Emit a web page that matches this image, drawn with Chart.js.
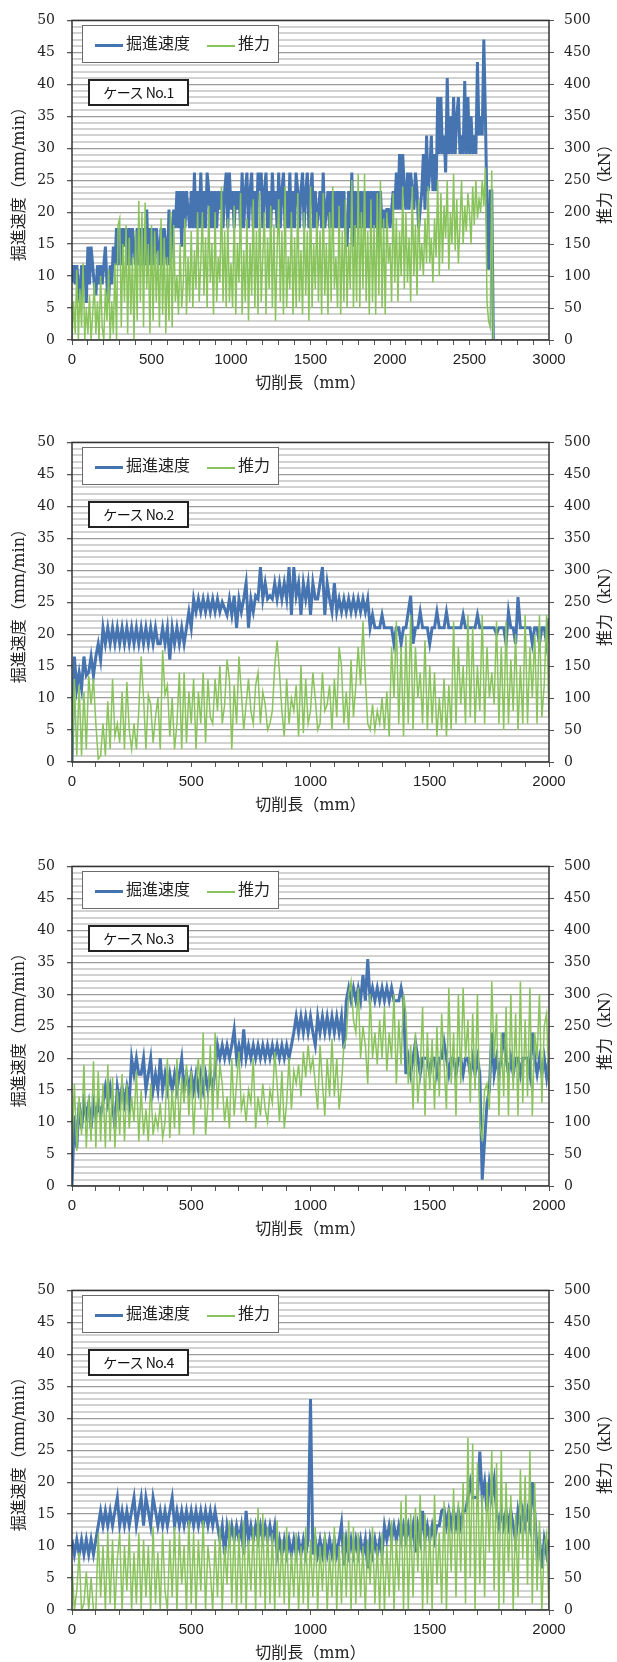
<!DOCTYPE html>
<html>
<head>
<meta charset="utf-8">
<script src="https://cdn.jsdelivr.net/npm/chart.js@4.4.1/dist/chart.umd.min.js"></script>
<style>
  html, body { margin: 0; padding: 0; background: #fff; overflow: hidden; width: 617px; height: 1662px; }
  .wrap { position: absolute; left: 0; width: 617px; height: 400px; }
  .legend { position: absolute; left: 82px; top: 25px; width: 195px; height: 36px; border: 1.5px solid #6b6b6b; background: #fff;
            font: 16px "Noto Sans CJK JP", sans-serif; color: #222; }
  .legend span { position: absolute; }
  .case { position: absolute; left: 88px; top: 79px; width: 97px; height: 23px; border: 2px solid #222; background: #fff;
          font: 14px "Noto Sans CJK JP", sans-serif; color: #111; text-align: center; line-height: 23px; letter-spacing: -0.5px; }
</style>
</head>
<body>
<div id="c1" class="wrap" style="top:0px"><canvas id="chart1" width="617" height="400"></canvas></div>
<div id="c2" class="wrap" style="top:422px"><canvas id="chart2" width="617" height="400"></canvas></div>
<div id="c3" class="wrap" style="top:846px"><canvas id="chart3" width="617" height="400"></canvas></div>
<div id="c4" class="wrap" style="top:1270px"><canvas id="chart4" width="617" height="400"></canvas></div>
<script>
// series labels and case names
var seriesNames = ['掘進速度', '推力'];
var caseNames = ['ケース No.1', 'ケース No.2', 'ケース No.3', 'ケース No.4'];
var xTitle = '切削長（mm）';
var yTitle = '掘進速度（mm/min）';
var y2Title = '推力（kN）';
var sampleStep = 10; // mm between readings
var xMaxes = [3000, 2000, 2000, 2000];

// case 1 (mm/min / kN), every 10 mm
var speed1 = [
  9.0,11.7,8.7,11.7,8.7,5.8,11.7,8.7,11.7,5.8,
  14.6,8.7,14.6,11.7,8.7,7.0,11.7,8.7,11.7,8.7,
  11.7,14.6,8.7,5.8,11.7,8.7,14.6,11.7,17.5,11.7,
  17.5,11.7,17.5,14.6,17.5,11.7,17.5,11.7,17.5,14.6,
  11.7,17.5,11.7,17.5,11.7,17.5,11.7,20.4,11.7,17.5,
  11.7,17.5,11.7,17.5,14.6,11.7,17.5,11.7,17.5,14.6,
  11.7,20.4,11.7,17.5,20.4,17.5,23.3,17.5,23.3,14.6,
  23.3,17.5,23.3,20.4,17.5,23.3,17.5,26.2,17.5,23.3,
  17.5,26.2,17.5,23.3,17.5,26.2,23.3,17.5,23.3,17.5,
  23.3,17.5,23.3,20.4,23.3,17.5,23.3,26.2,17.5,26.2,
  20.4,23.3,17.5,23.3,20.4,23.3,17.5,26.2,17.5,23.3,
  26.2,17.5,23.3,26.2,17.5,23.3,17.5,26.2,23.3,26.2,
  17.5,23.3,26.2,17.5,23.3,17.5,26.2,20.4,23.3,17.5,
  26.2,17.5,23.3,26.2,17.5,23.3,17.5,26.2,17.5,23.3,
  17.5,26.2,23.3,17.5,23.3,26.2,17.5,23.3,26.2,17.5,
  23.3,26.2,17.5,23.3,17.5,20.4,23.3,17.5,26.2,17.5,
  20.4,23.3,17.5,23.3,17.5,23.3,17.5,23.3,17.5,23.3,
  17.5,23.3,17.5,14.6,23.3,17.5,26.2,14.6,23.3,17.5,
  23.3,17.5,23.3,17.5,23.3,17.5,23.3,17.5,23.3,17.5,
  23.3,17.5,23.3,14.6,23.3,17.5,20.4,17.5,20.4,20.4,
  17.5,20.4,23.3,20.4,26.2,20.4,29.1,20.4,29.1,23.3,
  20.4,26.2,20.4,26.2,23.3,20.4,26.2,23.3,17.5,20.4,
  23.3,29.1,20.4,32.0,23.3,26.2,32.0,23.3,29.1,23.3,
  38.0,29.1,38.0,29.1,32.0,26.2,41.0,29.1,35.0,29.1,
  38.0,29.1,35.0,38.0,29.1,32.0,29.1,40.5,29.1,38.0,
  29.1,35.0,29.1,32.0,29.1,43.5,32.0,35.0,32.0,47.0,
  35.0,20.4,11.0,23.3,23.3,0
];
var thrust1 = [
  0,60,10,110,0,80,20,120,0,50,
  10,70,0,40,90,10,60,0,100,20,
  0,80,30,110,0,60,10,120,0,180,
  190,20,150,60,180,10,160,40,130,0,
  170,30,218,60,200,20,215,80,150,10,
  180,30,170,60,140,20,190,40,160,10,
  130,30,200,20,180,60,100,40,150,50,
  90,190,40,130,60,170,50,140,80,200,
  60,120,200,70,160,50,210,90,150,40,
  200,60,130,90,240,60,170,50,190,60,
  120,50,210,40,150,90,230,40,140,60,
  190,30,150,70,220,50,170,40,230,60,
  130,200,40,160,80,210,50,180,30,140,
  220,60,170,40,240,50,130,80,200,40,
  160,50,230,60,140,40,200,70,170,30,
  240,50,150,80,200,60,170,40,230,70,
  150,40,200,60,240,80,130,50,210,40,
  170,60,220,50,150,80,250,50,180,60,
  260,50,200,80,260,60,170,40,220,60,
  180,40,230,70,250,50,190,40,200,120,
  150,60,230,90,190,60,170,100,240,80,
  200,90,160,60,240,100,180,70,220,110,
  150,100,190,120,240,120,160,90,190,130,
  250,100,230,120,210,160,250,110,200,150,
  260,140,220,120,180,250,150,210,170,230,
  200,150,240,180,250,190,220,200,250,210,
  270,60,30,20,265,0
];

// case 2
var speed2 = [
  0,16.5,11.5,14,11.5,16.5,13.5,14,16.5,13.5,
  16.5,18.5,16,21,18.5,21,18.5,21,18.5,21,
  18.5,21,18.5,21,18.5,21,18.5,21,18.5,21,
  18.5,21,18.5,21,18.5,21,18.5,18.5,21,18.5,
  21,16,21,18.5,21,18.5,21,18.5,21,23.5,
  21,25.5,23.5,25.5,23.5,25.5,23.5,25.5,23.5,25.5,
  23.5,25.5,23.5,25,24,23,25.5,23,26,21,
  25.5,23.5,25.5,28,21,25.5,23.5,26,25.5,30.5,
  25.5,28,25.5,26,25.5,28,25.5,28,25.5,28,
  25.5,30.5,23,30.5,26,28,23,28,25.5,28,
  23,28,25.5,25.5,28,30.5,23,28,25.5,23.5,
  28,23.5,25.5,23.5,25.5,23.5,25.5,23.5,25.5,23.5,
  25.5,23.5,25.5,23.5,25.5,21,23,21,21,21,
  23,21,21,21,21,18.5,21,21,18.5,21,
  21,23.5,26,18.5,21,21,23.5,21,21,21,
  18.5,21,21,23.5,21,21,21,23.5,21,21,
  21,21,21,21,23,21,21,21,21,21,
  23,21,21,21,21,21,21,21,20,21,
  21,21,18.5,23.5,21,21,18.5,25.8,21,21,
  21,21,21,18.5,21,21,18.5,21,21,18.5,
  22.5
];
var thrust2 = [
  0,130,10,120,10,110,20,135,90,130,
  60,5,10,60,10,95,20,130,40,60,
  30,110,20,125,50,20,60,20,80,165,
  100,20,105,90,30,70,100,20,175,105,
  120,40,100,20,60,140,20,140,30,110,
  60,130,20,110,60,140,30,130,70,60,
  130,80,150,60,90,160,130,20,120,60,
  165,110,50,90,130,80,60,120,140,60,
  110,90,50,60,80,150,190,140,80,40,
  130,60,100,80,120,40,150,45,130,60,
  80,140,100,50,60,140,80,90,120,50,
  130,70,180,150,60,110,50,160,70,120,
  180,120,220,130,60,50,90,50,80,60,
  100,50,110,40,180,100,220,60,180,40,
  200,60,230,50,180,100,140,60,190,50,
  150,60,140,40,100,50,130,40,120,50,
  220,60,180,90,150,60,230,70,210,60,
  150,80,230,60,180,100,140,90,220,60,
  180,50,220,60,160,80,200,50,150,60,
  230,60,180,100,200,60,230,70,120,230,
  70
];

// case 3
var speed3 = [
  0,11,6,13,9,13,11,13,9,13,
  11,13,11,13,15.5,13,15.5,13,9,15.5,
  13,15.5,13,15.5,13,20,17.5,20,17.5,17.5,
  20,15,17.5,20,15,17.5,15,20,15,17.5,
  15,17.5,15,17.5,15,17.5,20,15,17.5,15,
  17.5,15,17.5,15,17.5,15,17.5,15,17.5,15,
  18,22,20,22,20,22,20,22,24.5,20,
  22,20,24.5,20,22,20,22,20,22,20,
  22,20,22,20,22,20,22,20,22,20,
  22,20,22,24,26.5,24,26.5,24,26.5,24,
  26.5,24,22,26.5,24,26.5,24,26.5,24,26.5,
  24,26.5,24,26.5,21.5,29,31,29,31,29,
  31,29,33,29,35.5,29,31,29,31,29,
  31,29,31,29,31,29,29,29,31,29,
  17.5,20,17.5,20,22.5,20,17.5,20,20,20,
  17.5,20,20,17.5,20,20,22.5,20,17.5,20,
  20,17.5,20,20,17.5,20,20,17.5,20,17.5,
  20,17.5,1,7,13,15,24,17.5,20,17.5,
  20,24,20,17.5,20,17.5,20,20,17.5,20,
  20,20,17.5,24,20,17.5,20,17.5,20,17,
  20
];
var thrust3 = [
  60,160,55,140,80,190,60,140,70,195,
  60,180,70,160,60,190,70,170,60,150,
  80,175,70,160,90,140,100,180,70,150,
  80,120,70,160,80,110,90,130,75,100,
  200,75,150,90,200,80,170,130,190,110,
  180,80,160,200,120,240,80,130,220,100,
  240,120,190,160,100,140,90,200,110,160,
  210,120,140,100,150,130,200,90,140,110,
  160,120,100,150,130,210,160,100,180,90,
  130,200,120,180,160,190,140,210,170,220,
  180,200,160,120,220,160,110,200,140,230,
  140,200,120,160,220,230,300,320,260,240,
  310,200,250,220,160,300,200,240,190,260,
  200,280,180,240,200,300,160,260,190,300,
  270,160,220,120,240,130,180,280,110,240,
  150,230,120,250,140,270,190,120,310,160,
  240,110,300,160,310,200,260,130,270,150,
  300,100,70,150,160,120,320,200,270,110,
  240,140,280,110,300,150,270,110,320,130,
  260,140,310,110,240,200,300,130,250,270,
  150
];

// case 4
var speed4 = [
  11,8.7,11,8.7,11,8.7,11,8.7,11,8.7,
  11,13.2,15.5,13.2,15.5,13.2,15.5,13.2,15.5,17.6,
  13.2,15.5,13.2,15.5,13.2,15.5,17.6,13.2,15.5,17.6,
  13.2,17.6,15.5,13.2,17.6,15.5,13.2,15.5,13.2,15.5,
  13.2,15.5,17.6,13.2,15.5,13.2,15.5,13.2,15.5,13.2,
  15.5,13.2,15.5,13.2,15.5,13.2,15.5,13.2,15.5,13.2,
  15.5,13.2,11,13.2,8.7,13.2,11,13.2,11,13.2,
  11,13.2,8.7,15.5,11,13.2,11,13.2,11,13.2,
  11,13.2,11,13.2,11,13.2,8.7,11,8.7,11,
  8.7,11,8.7,11,8.7,11,8.7,11,8.7,11,
  33,8.7,11,8.7,11,8.7,11,8.7,11,8.7,
  11,8.7,11,13.5,7,11,8.7,11,8.7,11,
  8.7,11,8.7,11,6.5,11,8.7,11,8.7,11,
  8.7,13.2,11,13.2,11,13.2,11,13.2,11,13.2,
  11,13.2,11,13.2,9,13.2,11,15.5,11,13.2,
  11,13.2,11,13.2,13.2,15.5,15.8,13.2,15.5,13.2,
  15.5,13.2,15.5,13.2,15.5,15.5,17.6,20,17.6,17.6,
  17.6,24.8,17.6,20,15.5,20,17.6,20.3,15.5,13.2,
  15.5,13.2,15.5,13.2,15.5,13.2,10.8,15.5,13.2,15.5,
  13.2,15.5,13.2,20,15.5,8.7,11,6.5,11,8.7,
  11
];
var thrust4 = [
  70,0,30,90,0,10,60,0,50,0,
  0,120,20,100,0,120,10,110,0,80,
  120,0,100,30,120,0,90,10,120,0,
  110,20,100,0,130,10,90,0,120,30,
  0,110,20,130,0,120,40,100,0,140,
  10,120,0,110,30,140,0,100,60,0,
  110,20,130,0,100,40,140,10,130,0,
  120,10,140,0,110,30,130,0,160,20,
  150,0,130,10,120,0,140,20,110,10,
  130,0,90,20,120,0,100,10,130,0,
  110,20,130,0,100,30,120,0,90,20,
  130,0,100,10,120,20,140,0,130,10,
  120,20,100,0,110,40,130,10,100,0,
  120,0,100,20,140,0,110,30,170,0,
  180,0,150,20,160,60,180,0,150,10,
  130,0,180,40,120,10,170,0,160,60,
  190,20,170,60,200,10,270,50,260,0,
  230,40,180,20,200,90,250,30,230,0,
  250,10,200,60,180,0,150,20,220,80,
  210,40,250,10,200,30,140,0,100,120,
  0
];

var BLUE = '#4674b0';
var GREEN = '#88c45a';
var SERIF = '"DejaVu Serif", "Noto Sans CJK JP", serif';
var SANS = '"Liberation Sans", Arial, sans-serif';

// plot frame and right-hand title (reads bottom to top like the left one)
var framePlugin = {
  id: 'frame',
  afterDatasetsDraw: function(chart) {
    var a = chart.chartArea, ctx = chart.ctx;
    ctx.save();
    ctx.strokeStyle = '#333';
    ctx.lineWidth = 1.5;
    ctx.strokeRect(a.left, a.top, a.right - a.left, a.bottom - a.top);
    ctx.translate(606, (a.top + a.bottom) / 2);
    ctx.rotate(-Math.PI / 2);
    ctx.font = '16px ' + SERIF;
    ctx.fillStyle = '#222';
    ctx.textAlign = 'center';
    ctx.textBaseline = 'middle';
    ctx.fillText(y2Title, 0, 0);
    ctx.restore();
  }
};

function toPoints(values) {
  return values.map(function(v, i) { return { x: i * sampleStep, y: v }; });
}

function addBoxes(wrapId, caseName) {
  var wrap = document.getElementById(wrapId);
  var lg = document.createElement('div');
  lg.className = 'legend';
  lg.innerHTML =
    '<span style="left:12px;top:18px;width:28px;height:3px;background:' + BLUE + '"></span>' +
    '<span style="left:43px;top:6px;line-height:20px">' + seriesNames[0] + '</span>' +
    '<span style="left:124px;top:19px;width:28px;height:1.5px;background:' + GREEN + '"></span>' +
    '<span style="left:155px;top:6px;line-height:20px">' + seriesNames[1] + '</span>';
  wrap.appendChild(lg);
  var cs = document.createElement('div');
  cs.className = 'case';
  cs.textContent = caseName;
  wrap.appendChild(cs);
}

function drawCase(canvasId, wrapId, caseName, xMax, speed, thrust) {
  addBoxes(wrapId, caseName);
  new Chart(document.getElementById(canvasId), {
    type: 'line',
    data: {
      datasets: [
        { label: seriesNames[0], data: toPoints(speed), yAxisID: 'y', borderColor: BLUE, borderWidth: 3,
          pointRadius: 0, tension: 0, order: 2 },
        { label: seriesNames[1], data: toPoints(thrust), yAxisID: 'y2', borderColor: GREEN, borderWidth: 1.5,
          pointRadius: 0, tension: 0, order: 1 }
      ]
    },
    options: {
      responsive: false,
      animation: false,
      devicePixelRatio: 1,
      layout: { padding: { top: 16, left: 0, right: 0, bottom: 0 } },
      plugins: { legend: { display: false }, tooltip: { enabled: false } },
      scales: {
        x: {
          type: 'linear', min: 0, max: xMax,
          afterFit: function(s) { s.height = 60; },
          border: { display: false },
          grid: { drawOnChartArea: false, tickLength: 5, tickColor: '#555', lineWidth: 1 },
          ticks: {
            stepSize: 100, autoSkip: false, maxTicksLimit: 100, maxRotation: 0, padding: 6,
            color: '#222', font: { family: SANS, size: 15 },
            callback: function(v) { return v % 500 === 0 ? v : ''; }
          },
          title: { display: true, text: xTitle, color: '#222', padding: { top: 0, bottom: 7 },
                   font: { family: SERIF, size: 16 } }
        },
        y: {
          position: 'left', min: 0, max: 50,
          afterFit: function(s) { s.width = 72; },
          border: { display: false },
          grid: {
            color: function(c) { return c.tick.value % 5 === 0 ? '#9c9c9c' : '#d2d2d2'; },
            lineWidth: function(c) { return c.tick.value % 5 === 0 ? 1.3 : 2; },
            tickLength: 5,
            tickColor: function(c) { return c.tick.value % 5 === 0 ? '#555' : 'rgba(0,0,0,0)'; }
          },
          ticks: {
            stepSize: 1, autoSkip: false, maxTicksLimit: 100, padding: 12,
            color: '#222', font: { family: SERIF, size: 14 },
            callback: function(v) { return v % 5 === 0 ? v : ''; }
          },
          title: { display: true, text: yTitle, color: '#222', padding: { top: 10, bottom: 0 },
                   font: { family: SERIF, size: 16 } }
        },
        y2: {
          position: 'right', min: 0, max: 500,
          afterFit: function(s) { s.width = 68; },
          border: { display: false },
          grid: { drawOnChartArea: false, tickLength: 5, tickColor: '#555' },
          ticks: {
            stepSize: 50, autoSkip: false, maxTicksLimit: 100, padding: 10,
            color: '#222', font: { family: SERIF, size: 14 }
          }
        }
      }
    },
    plugins: [framePlugin]
  });
}

drawCase('chart1', 'c1', caseNames[0], xMaxes[0], speed1, thrust1);
drawCase('chart2', 'c2', caseNames[1], xMaxes[1], speed2, thrust2);
drawCase('chart3', 'c3', caseNames[2], xMaxes[2], speed3, thrust3);
drawCase('chart4', 'c4', caseNames[3], xMaxes[3], speed4, thrust4);
</script>
</body>
</html>
